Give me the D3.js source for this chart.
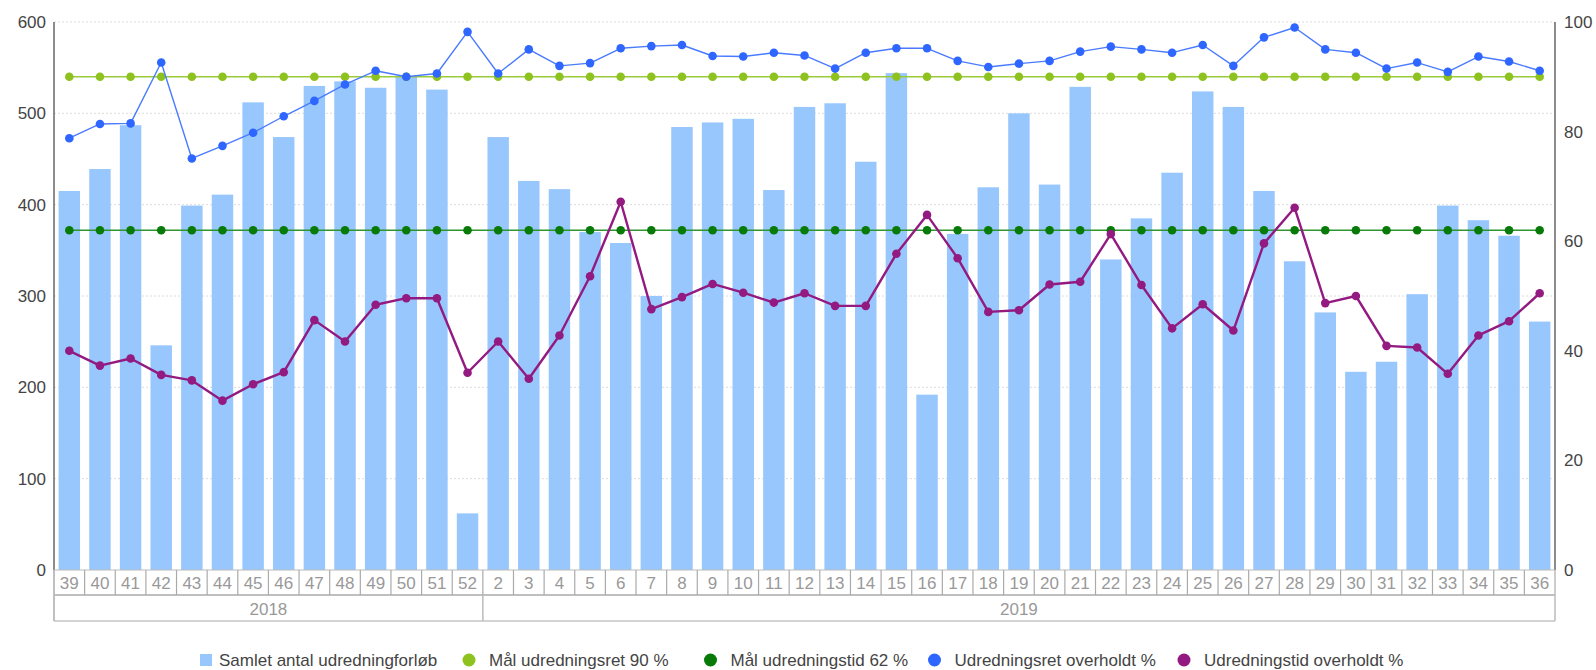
<!DOCTYPE html>
<html><head><meta charset="utf-8">
<script src="https://cdn.jsdelivr.net/npm/d3@7"></script>
<style>body{margin:0;background:#fff;} svg{display:block;font-family:"Liberation Sans",Arial,sans-serif;}</style>
</head><body><svg id="c" width="1596" height="670"></svg>
<script>
const weeks2018 = ["39","40","41","42","43","44","45","46","47","48","49","50","51","52"];
const weeks2019 = ["2","3","4","5","6","7","8","9","10","11","12","13","14","15","16","17","18","19","20","21","22","23","24","25","26","27","28","29","30","31","32","33","34","35","36"];
const years = ["2018","2019"];
const samlet = [415,439,487,246,399,411,512,474,530,535,528,540,526,62,
  474,426,417,370,358,300,485,490,494,416,507,511,447,544,192,368,419,500,422,529,340,385,435,524,507,415,338,282,217,228,302,399,383,366,272];
const udredningsretPct = [78.8,81.4,81.5,92.6,75.1,77.4,79.8,82.8,85.6,88.6,91.1,90.0,90.6,98.2,
  90.6,95.0,92.0,92.5,95.2,95.6,95.8,93.8,93.7,94.4,93.9,91.5,94.4,95.2,95.2,92.9,91.8,92.4,92.9,94.6,95.5,95.0,94.4,95.8,92.0,97.2,99.0,95.0,94.4,91.5,92.6,90.9,93.7,92.8,91.1];
const udredningstidPct = [40.0,37.3,38.6,35.6,34.6,30.9,33.9,36.1,45.6,41.7,48.4,49.6,49.6,36.0,
  41.7,34.9,42.8,53.6,67.2,47.6,49.8,52.2,50.6,48.8,50.5,48.2,48.2,57.7,64.8,56.9,47.1,47.4,52.1,52.6,61.3,52.0,44.1,48.5,43.7,59.6,66.1,48.7,50.0,40.9,40.6,35.8,42.8,45.4,50.5];
const maalUdredningsret = 90;
const maalUdredningstid = 62;
const leftTicks = [0,100,200,300,400,500,600];
const rightTicks = [0,20,40,60,80,100];
const legendLabels = ["Samlet antal udredningforløb","Mål udredningsret 90 %","Mål udredningstid 62 %","Udredningsret overholdt %","Udredningstid overholdt %"];

const colors = {bar:"#97c7fc", lgreen:"#8dc21f", dgreen:"#087a08", blue:"#2f66ff", purple:"#931a80"};
const lineColors = {lgreen:"#9acb3a", dgreen:"#2f962f", blue:"#4a7bff", purple:"#931a80"};

const cats = [...weeks2018.map(w=>({y:"2018",w})), ...weeks2019.map(w=>({y:"2019",w}))];
const keys = cats.map(c=>c.y+"-"+c.w);

const L = 54, R = 1555, T = 22, B = 570;
const svg = d3.select("#c");
const x = d3.scaleBand().domain(keys).range([L,R]).padding(0);
const yL = d3.scaleLinear().domain([0,600]).range([B,T]);
const yR = d3.scaleLinear().domain([0,100]).range([B,T]);
const cx = k => x(k) + x.bandwidth()/2;

// gridlines
svg.append("g").selectAll("line").data(leftTicks.filter(t=>t>0)).join("line")
  .attr("x1",L).attr("x2",R).attr("y1",d=>yL(d)).attr("y2",d=>yL(d))
  .attr("stroke","#dcdcdc").attr("stroke-width",1).attr("stroke-dasharray","2,2");

// bars
const bw = x.bandwidth()*0.7;
svg.append("g").selectAll("rect").data(samlet).join("rect")
  .attr("x",(d,i)=>cx(keys[i])-bw/2).attr("width",bw)
  .attr("y",d=>yL(d)).attr("height",d=>B-yL(d)).attr("fill",colors.bar);

function lineSeries(vals,dotColor,lineColor,w,r){
  const g = svg.append("g");
  const line = d3.line().x((d,i)=>cx(keys[i])).y(d=>yR(d));
  g.append("path").datum(vals).attr("d",line).attr("fill","none").attr("stroke",lineColor).attr("stroke-width",w).attr("stroke-linejoin","round");
  g.selectAll("circle").data(vals).join("circle").attr("cx",(d,i)=>cx(keys[i])).attr("cy",d=>yR(d)).attr("r",r).attr("fill",dotColor);
}
lineSeries(keys.map(()=>maalUdredningsret),colors.lgreen,lineColors.lgreen,1.6,4.3);
lineSeries(keys.map(()=>maalUdredningstid),colors.dgreen,lineColors.dgreen,1.6,4.3);
lineSeries(udredningsretPct,colors.blue,lineColors.blue,1.4,4.3);
lineSeries(udredningstidPct,colors.purple,lineColors.purple,2.4,4.3);

// axes lines
svg.append("line").attr("x1",L).attr("x2",L).attr("y1",T).attr("y2",B).attr("stroke","#666").attr("stroke-width",1.5);
svg.append("line").attr("x1",R).attr("x2",R).attr("y1",T).attr("y2",B).attr("stroke","#666").attr("stroke-width",1.5);

// tick labels
svg.append("g").selectAll("text").data(leftTicks).join("text")
  .attr("x",46).attr("y",d=>yL(d)).attr("dy","0.35em").attr("text-anchor","end")
  .attr("font-size",17).attr("fill","#444").text(d=>d);
svg.append("g").selectAll("text").data(rightTicks).join("text")
  .attr("x",1564).attr("y",d=>yR(d)).attr("dy","0.35em").attr("text-anchor","start")
  .attr("font-size",17).attr("fill","#444").text(d=>d);

// category rows
const rowTop = B, rowMid = 595, rowBot = 621;
const gc = svg.append("g");
gc.append("line").attr("x1",L).attr("x2",R).attr("y1",rowTop).attr("y2",rowTop).attr("stroke","#bbb").attr("stroke-width",1);
gc.append("line").attr("x1",L).attr("x2",R).attr("y1",rowMid).attr("y2",rowMid).attr("stroke","#aaa").attr("stroke-width",1.5);
gc.append("line").attr("x1",L).attr("x2",R).attr("y1",rowBot).attr("y2",rowBot).attr("stroke","#c4c4c4").attr("stroke-width",1.5);
gc.selectAll("line.sep").data(keys).join("line").attr("class","sep")
  .attr("x1",d=>x(d)).attr("x2",d=>x(d)).attr("y1",rowTop).attr("y2",rowMid).attr("stroke","#aaa").attr("stroke-width",1.2);
gc.append("line").attr("x1",R).attr("x2",R).attr("y1",rowTop).attr("y2",rowBot).attr("stroke","#bbb").attr("stroke-width",1.5);
gc.append("line").attr("x1",L).attr("x2",L).attr("y1",rowTop).attr("y2",rowBot).attr("stroke","#bbb").attr("stroke-width",1.5);
gc.selectAll("text.wk").data(cats).join("text").attr("class","wk")
  .attr("x",(d,i)=>cx(keys[i])).attr("y",(rowTop+rowMid)/2+1).attr("dy","0.35em").attr("text-anchor","middle")
  .attr("font-size",17).attr("fill","#999").text(d=>d.w);
years.forEach(yr=>{
  const ks = keys.filter(k=>k.startsWith(yr));
  const x0 = x(ks[0]), x1 = x(ks[ks.length-1])+x.bandwidth();
  gc.append("line").attr("x1",x0).attr("x2",x0).attr("y1",rowMid).attr("y2",rowBot).attr("stroke","#bbb").attr("stroke-width",1.5);
  gc.append("text").attr("x",(x0+x1)/2).attr("y",(rowMid+rowBot)/2+1).attr("dy","0.35em").attr("text-anchor","middle")
    .attr("font-size",17).attr("fill","#999").text(yr);
});

// legend
const legCols = [colors.bar,colors.lgreen,colors.dgreen,colors.blue,colors.purple];
const legX = [206,469,710.5,934.5,1184];
const ly = 660;
const lg = svg.append("g");
legendLabels.forEach((lab,i)=>{
  if(i===0) lg.append("rect").attr("x",legX[i]-6).attr("y",ly-6).attr("width",12).attr("height",12).attr("fill",legCols[i]);
  else lg.append("circle").attr("cx",legX[i]).attr("cy",ly).attr("r",6.5).attr("fill",legCols[i]);
  lg.append("text").attr("x",legX[i]+(i===0?13:20)).attr("y",ly).attr("dy","0.35em").attr("font-size",17).attr("fill","#444").text(lab);
});
</script></body></html>
